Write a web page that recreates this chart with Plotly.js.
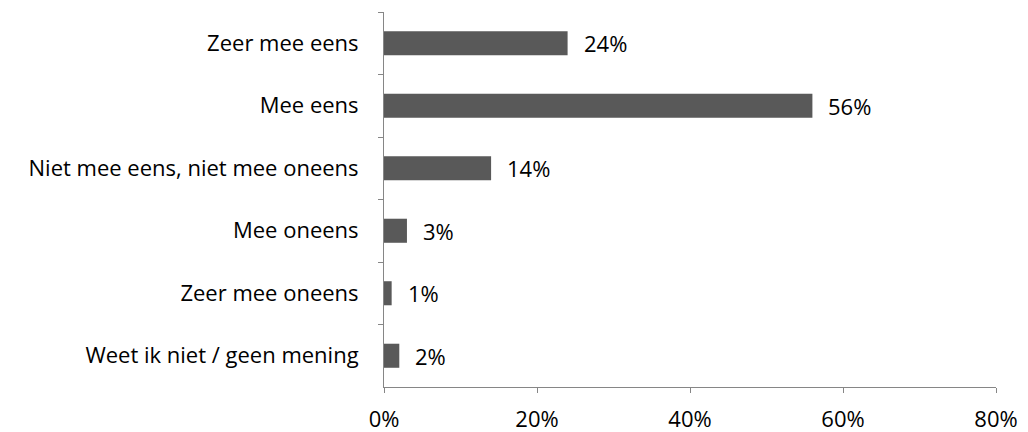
<!DOCTYPE html>
<html>
<head>
<meta charset="utf-8">
<script src="https://cdn.plot.ly/plotly-3.0.1.min.js"></script>
<style>html,body{margin:0;padding:0;background:#fff}#chart{width:1028px;height:432px}</style>
</head>
<body>
<div id="chart"></div>
<script>
const categories = ["Zeer mee eens","Mee eens","Niet mee eens, niet mee oneens","Mee oneens","Zeer mee oneens","Weet ik niet / geen mening"];
const values = [0.24,0.56,0.14,0.03,0.01,0.02];
const labels = ["24%","56%","14%","3%","1%","2%"];
const xTickVals = [0,0.2,0.4,0.6,0.8];
const xTickText = ["0%","20%","40%","60%","80%"];

const fontFam = "'Open Sans', sans-serif";
const fs = 22;
const trace = {
  type: "bar",
  orientation: "h",
  y: categories,
  x: values,
  marker: {color: "#595959"},
  hoverinfo: "none"
};
const annotations = categories.map((c,i)=>({
  x: values[i], y: c, xref: "x", yref: "y",
  text: labels[i], showarrow: false, xanchor: "left", xshift: 14,
  font: {family: fontFam, size: fs, color: "#000"}
}));
const layout = {
  width: 1028, height: 432,
  margin: {l: 384, r: 32, t: 12, b: 45},
  paper_bgcolor: "#fff", plot_bgcolor: "#fff",
  showlegend: false,
  bargap: 0.615,
  font: {family: fontFam, size: fs, color: "#000"},
  xaxis: {
    range: [0, 0.8], tickvals: xTickVals, ticktext: xTickText,
    showgrid: false, zeroline: false, showline: true, linecolor: "#868686", linewidth: 1,
    ticks: "outside", ticklen: 5, tickcolor: "#868686", ticklabelstandoff: 8,
    tickfont: {family: fontFam, size: fs, color: "#000"}, fixedrange: true
  },
  yaxis: {
    type: "category", autorange: "reversed",
    showgrid: false, zeroline: false, showline: true, linecolor: "#868686", linewidth: 1,
    ticks: "outside", ticklen: 5, tickcolor: "#868686", tickson: "boundaries",
    ticklabelstandoff: 20,
    tickfont: {family: fontFam, size: fs, color: "#000"}, fixedrange: true
  },
  annotations: annotations
};
Plotly.newPlot("chart", [trace], layout, {displayModeBar: false, staticPlot: true});
</script>
</body>
</html>
